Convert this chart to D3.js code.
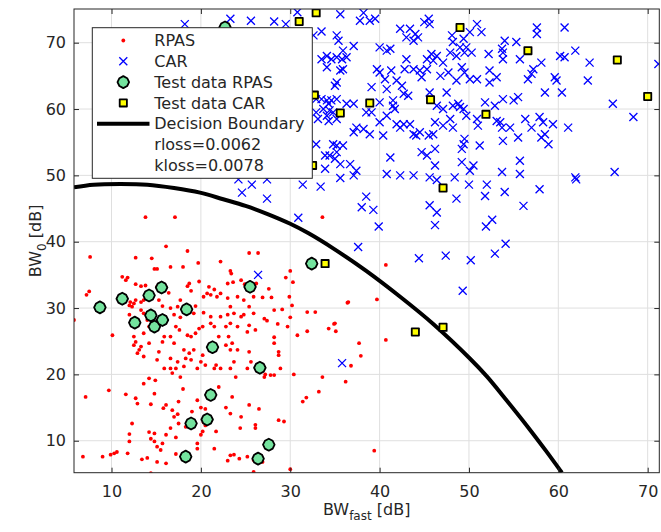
<!DOCTYPE html>
<html><head><meta charset="utf-8">
<script src="https://cdn.jsdelivr.net/npm/d3@7/dist/d3.min.js"></script>
<style>
body{margin:0;background:#fff}
text{font-family:"DejaVu Sans",sans-serif;fill:#262626}
</style>
</head><body>
<svg id="chart" width="661" height="532"></svg>
<script>
// ---------- data ----------
const xTicks = [10,20,30,40,50,60,70];
const yTicks = [10,20,30,40,50,60,70];
const xDomain = [5.8, 71.3];
const yDomain = [5.18, 75.08];

const legendLabels = ["RPAS","CAR","Test data RPAS","Test data CAR","Decision Boundary","rloss=0.0062","kloss=0.0078"];

const rpasPoints = [
[13.8,43.7],[17.1,43.7],[16.1,39.3],[18.5,38.6],[7.6,37.7],[12.7,37.6],[14.5,37.5],[19.7,36.8],[14.8,35.9],[15.1,35.9],
[16.6,36.2],[18.0,36.2],[22.2,37.0],[23.3,35.6],[23.4,35.2],[25.4,38.3],[26.4,38.3],[11.2,34.7],[11.8,34.6],[11.6,34.2],
[19.8,34.0],[18.7,33.7],[18.5,33.3],[12.7,33.6],[13.3,33.3],[13.8,33.4],[15.1,33.2],[16.4,32.3],[18.9,32.6],[20.9,33.2],
[21.5,32.8],[23.0,33.7],[23.6,33.9],[24.5,34.2],[24.9,33.6],[26.2,33.7],[27.6,32.9],[29.5,34.6],[30.0,35.6],[30.3,33.9],
[7.5,32.5],[7.2,32.0],[5.8,28.2],[12.1,30.9],[12.0,30.4],[12.3,30.2],[12.5,30.7],[13.3,30.9],[12.7,31.2],[13.6,31.2],
[15.3,31.2],[15.7,30.3],[16.6,30.0],[17.4,30.2],[17.7,31.2],[19.4,30.3],[20.3,31.7],[20.7,32.2],[21.1,32.0],[21.8,31.7],
[22.2,32.2],[23.0,31.5],[23.3,30.2],[24.1,31.7],[24.8,31.2],[25.4,30.2],[25.9,31.7],[26.9,31.6],[27.9,31.6],[29.9,31.7],
[30.2,30.4],[36.4,30.8],[33.6,43.7],[13.3,29.7],[13.6,29.2],[12.0,29.0],[14.0,28.2],[14.8,29.0],[15.9,28.4],[17.0,29.0],
[17.7,28.6],[19.2,29.2],[20.3,29.3],[21.1,28.7],[22.2,28.7],[23.0,29.0],[23.7,29.2],[24.5,28.7],[24.8,29.0],[25.9,29.2],
[27.1,28.4],[28.2,29.7],[29.1,29.8],[30.0,28.6],[31.9,29.4],[32.8,29.4],[34.9,27.6],[34.3,26.9],[35.1,26.5],[28.6,27.6],
[27.4,28.1],[25.2,26.4],[26.1,26.7],[25.4,27.4],[24.1,27.2],[23.3,27.7],[22.8,27.2],[21.5,27.2],[21.1,27.7],[20.2,27.2],
[19.8,26.9],[19.4,26.2],[18.9,25.7],[18.5,25.9],[17.2,27.2],[17.6,26.7],[16.6,25.7],[15.9,25.7],[15.1,26.9],[13.6,26.2],
[12.5,25.7],[10.1,25.9],[14.2,27.2],[22.0,25.7],[23.1,25.7],[29.7,27.2],[30.8,25.9],[28.2,25.6],
[12.7,24.9],[12.5,24.4],[13.3,24.2],[13.1,23.7],[12.9,23.2],[13.6,22.7],[14.2,24.7],[15.7,24.9],[17.0,24.7],[18.1,23.7],
[18.7,23.2],[19.2,23.7],[22.8,24.4],[23.3,23.7],[23.5,24.7],[24.1,23.7],[25.4,23.4],[28.2,24.7],[28.7,23.4],[28.7,22.9],
[37.7,24.7],[37.9,22.8],[36.8,21.3],[36.2,18.9],[33.6,19.6],[33.2,17.4],[31.8,16.5],[31.4,15.9],[30.4,20.0],[28.9,20.9],
[28.2,19.9],[27.8,19.9],[27.1,19.6],[27.2,20.0],[25.6,21.9],[25.2,20.9],[23.7,21.9],[23.9,19.6],[23.3,20.9],[22.2,20.9],
[21.7,21.4],[21.5,20.9],[20.5,21.4],[20.0,21.9],[20.2,22.9],[19.6,20.9],[18.9,22.2],[18.3,22.4],[18.1,21.2],[17.4,21.9],
[16.6,22.4],[17.2,20.9],[16.6,20.9],[15.9,20.9],[16.8,20.2],[17.7,19.6],[15.1,22.2],[15.3,23.4],[14.2,19.4],[13.6,18.6],
[14.9,19.1],[9.7,17.6],[7.1,16.6],[11.6,17.0],[12.7,16.4],[12.9,15.6],[14.4,15.5],[14.8,17.1],[16.1,15.4],[15.8,14.9],
[16.8,14.6],[17.5,15.9],[18.0,17.8],[19.0,14.4],[19.6,16.1],[20.0,15.0],[20.5,14.8],[22.0,18.1],[23.5,16.6],[22.8,15.0],
[23.3,14.1],[24.5,13.6],[25.4,15.4],[26.5,14.8],[26.1,12.4],[26.1,11.9],[24.4,11.9],[21.7,11.4],[20.2,11.4],[20.0,10.9],
[20.3,12.8],[20.5,12.3],[17.0,13.6],[17.4,14.0],[17.5,12.6],[16.6,11.9],[16.1,10.9],[14.8,11.1],[14.2,11.3],[14.4,10.3],
[14.8,9.9],[15.1,9.1],[15.7,9.6],[15.5,8.6],[17.2,10.5],[18.3,12.1],[19.6,9.6],[19.6,8.8],[12.0,11.0],[12.0,9.9],
[12.3,12.6],[11.8,8.1],[10.6,8.3],[10.3,8.1],[9.9,7.9],[9.0,7.6],[6.8,7.6],[13.4,7.2],[14.0,7.4],[15.1,6.8],
[16.1,6.6],[17.2,8.0],[21.5,8.8],[23.3,7.8],[23.7,7.9],[23.0,7.0],[24.3,7.3],[25.2,7.6],[25.9,7.1],[26.9,6.8],
[25.9,5.3],[30.0,5.7],[14.4,5.1],[28.7,13.1],[29.3,12.9],[39.4,8.5],[40.7,36.5],[39.7,31.3],[36.5,30.9],[40.7,25.2],
[35.0,27.7],[31.9,26.5]
];

const carPoints = [
[23.3,73.6],[25.6,73.3],[28.2,73.2],[29.5,72.8],[30.8,74.6],[35.6,74.3],[38.2,74.5],[37.8,73.3],[38.9,73.3],[39.5,73.6],
[42.3,72.1],[43.4,72.1],[44.0,71.3],[44.3,70.8],[43.8,70.3],[43.0,70.8],[45.0,73.1],[45.5,73.6],[33.5,71.7],[32.6,71.1],
[35.2,71.1],[35.4,70.3],[37.1,69.5],[35.9,68.8],[34.1,68.0],[33.5,67.5],[34.6,67.5],[35.2,67.8],[35.8,67.5],[35.9,66.0],
[35.6,65.8],[34.1,66.3],[36.3,67.8],[40.0,69.3],[40.8,68.8],[41.2,69.1],[43.0,67.5],[39.7,66.0],[40.0,65.5],[41.3,65.8],
[42.8,66.0],[43.8,66.0],[44.5,65.8],[44.7,64.8],[45.3,66.0],[45.3,67.5],[35.2,64.0],[35.0,63.5],[39.1,63.3],[40.6,64.5],
[40.8,63.0],[41.9,64.3],[42.5,63.5],[43.2,62.0],[42.7,62.3],[41.5,61.3],[32.9,61.5],[33.5,61.5],[34.1,61.3],[34.6,61.3],
[35.2,61.5],[36.3,60.8],[37.1,60.8],[34.3,60.8],[33.7,60.0],[34.4,59.8],[34.8,59.5],[34.1,59.0],[35.2,58.5],[34.3,58.2],
[32.9,59.5],[33.1,58.5],[38.5,59.5],[39.1,59.5],[40.0,61.0],[41.5,60.5],[41.7,60.0],[40.0,58.0],[40.8,59.0],[41.9,57.7],
[42.7,57.7],[43.4,57.7],[42.3,57.2],[43.8,56.2],[44.1,56.0],[44.5,56.5],[45.5,56.0],[37.4,57.2],[38.2,57.0],[37.1,56.5],
[38.9,56.2],[40.4,56.0],[32.9,54.7],[34.8,54.7],[35.2,54.5],[35.9,54.5],[33.9,53.0],[34.4,53.0],[35.2,53.5],[35.0,52.5],
[35.6,51.7],[33.9,51.0],[36.7,51.7],[37.4,50.7],[41.2,52.7],[44.7,53.5],[45.3,53.0],[40.8,50.2],[42.3,50.0],[43.8,50.0],
[37.1,50.0],
[45.6,72.8],[50.9,72.8],[51.4,71.6],[50.1,71.6],[49.4,70.6],[48.1,71.1],[48.2,70.1],[49.0,69.3],[49.7,69.3],[50.3,68.5],
[49.5,68.5],[48.6,68.0],[47.9,68.5],[47.1,67.0],[46.4,68.0],[45.8,68.3],[46.0,67.3],[46.8,65.0],[47.7,65.5],[48.6,64.3],
[49.2,66.3],[49.5,65.5],[50.1,64.5],[50.9,64.5],[52.3,65.8],[52.2,68.3],[53.1,64.8],[52.3,64.0],[53.7,69.1],[54.0,70.3],
[53.8,68.5],[53.8,67.5],[55.3,70.1],[55.7,67.5],[57.2,66.0],[56.6,64.5],[57.0,65.3],[57.6,72.3],[57.6,71.3],[58.1,67.0],
[60.2,68.0],[60.7,67.8],[60.7,72.3],[61.9,68.8],[63.5,67.0],[63.3,64.3],[59.6,64.8],[59.8,64.3],[58.5,62.5],[60.4,62.5],
[66.1,60.8],[68.4,58.8],[71.2,66.8],[45.6,62.5],[47.5,62.5],[46.4,60.5],[47.1,60.0],[48.2,60.5],[48.8,60.8],[49.0,60.3],
[49.4,60.0],[49.7,59.0],[47.9,58.5],[47.1,57.5],[48.2,57.2],[46.2,58.0],[46.0,56.2],[50.9,58.5],[51.0,57.5],[51.8,61.0],
[52.9,60.5],[53.8,61.5],[55.0,61.3],[55.5,61.8],[53.1,58.2],[53.5,58.0],[53.7,57.2],[54.6,57.2],[55.5,55.7],[53.8,55.2],
[56.3,58.5],[57.0,57.2],[57.9,58.8],[58.3,58.0],[59.4,57.7],[58.5,56.2],[58.1,55.7],[58.9,54.7],[61.1,57.2],[51.2,54.5],
[49.5,55.5],[49.2,54.0],[49.4,54.7],[46.2,54.0],[46.2,51.5],[49.2,52.0],[50.5,51.5],[50.1,50.7],[53.7,50.5],[55.7,52.2],
[55.7,50.2],[61.9,49.7],[66.3,50.5],[45.6,49.7],[48.4,49.7],
[24.6,47.4],[25.7,48.6],[27.4,46.5],[31.4,48.6],[33.4,48.3],[38.5,46.8],[38.0,45.2],[39.3,44.8],[39.9,42.3],[30.9,43.6],
[37.6,39.2],[26.4,35.0],[45.6,45.5],[46.4,44.4],[46.2,42.5],[48.6,46.5],[50.0,48.6],[51.8,46.9],[52.0,48.6],[54.0,47.5],
[56.1,45.4],[57.9,47.9],[62.0,49.4],[51.9,42.3],[52.6,43.3],[54.1,39.7],[52.9,38.2],[50.2,37.2],[47.4,37.9],[44.4,37.5],
[49.3,32.6],[24.2,49.4],[27.4,49.4],[35.6,49.6],[46.4,49.3],[18.2,72.8],[35.8,21.7]
];

const testRpasPoints = [
[8.7,30.1],[11.2,31.4],[12.6,27.8],[14.2,31.9],[15.6,33.1],[14.4,28.9],[14.8,27.2],[15.7,28.2],[18.4,29.8],[25.5,33.2],
[32.4,36.7],[21.3,24.1],[26.6,21.0],[21.1,16.9],[20.7,13.2],[18.9,12.6],[27.6,9.4],[18.3,7.6],[26.4,7.3],[22.7,72.3]
];

const testCarPoints = [
[32.9,74.5],[31.0,73.2],[32.7,62.1],[38.9,60.9],[35.6,59.4],[45.7,61.4],[32.5,51.5],[49.0,72.3],[56.6,68.8],[66.6,67.4],
[70.0,61.9],[51.9,59.2],[47.1,48.1],[33.9,36.7],[44.0,26.4],[47.1,27.1]
];

const boundaryPoints = [
[5.8,48.2],[8,48.6],[11,48.7],[14,48.6],[17,48.1],[19.9,47.4],[22.5,46.4],[25,45.4],[27.4,44.2],[30,42.7],
[32,41.3],[34.8,39.0],[38.5,35.6],[42.3,31.7],[46,27.6],[50.1,22.4],[52,19.7],[54.2,16.1],[56.8,11.7],[58.6,8.5],[60.4,5.18]
];

// ---------- drawing ----------
const svg = d3.select("#chart");
const L = 74, R = 659.3, T = 9, B = 472.7;
const x = d3.scaleLinear().domain(xDomain).range([L, R]);
const y = d3.scaleLinear().domain(yDomain).range([B, T]);
const axisColor = "#262626";

svg.append("defs").append("clipPath").attr("id","clip")
  .append("rect").attr("x",L).attr("y",T).attr("width",R-L).attr("height",B-T);

// grid
const grid = svg.append("g").attr("stroke","#dfdfdf").attr("stroke-width",1);
grid.selectAll(".gx").data(xTicks).join("line")
  .attr("x1",d=>x(d)).attr("x2",d=>x(d)).attr("y1",T).attr("y2",B);
grid.selectAll(".gy").data(yTicks).join("line")
  .attr("y1",d=>y(d)).attr("y2",d=>y(d)).attr("x1",L).attr("x2",R);

const plot = svg.append("g").attr("clip-path","url(#clip)");

// RPAS dots
plot.append("g").selectAll("circle").data(rpasPoints).join("circle")
  .attr("cx",d=>x(d[0])).attr("cy",d=>y(d[1])).attr("r",1.9).attr("fill","#ff0000");

// CAR crosses
const xs = 4;
plot.append("g").attr("stroke","#0000ff").attr("stroke-width",1.3).attr("fill","none")
  .selectAll("path").data(carPoints).join("path")
  .attr("d",d=>{const cx=x(d[0]),cy=y(d[1]);return `M${cx-xs},${cy-xs}L${cx+xs},${cy+xs}M${cx-xs},${cy+xs}L${cx+xs},${cy-xs}`;});

// marker shapes
const gem = "M0,-6L3.9,-3.9L5.8,0L3.9,3.9L0,6L-3.9,3.9L-5.8,0L-3.9,-3.9Z";
function drawGem(g, px, py){
  g.append("path").attr("d",gem).attr("transform",`translate(${px},${py})`)
   .attr("fill","#74e39e").attr("stroke","#000").attr("stroke-width",1.8).attr("stroke-linejoin","round");
}
function drawSquare(g, px, py){
  g.append("rect").attr("x",px-3.6).attr("y",py-3.6).attr("width",7.2).attr("height",7.2)
   .attr("fill","#ffff00").attr("stroke","#000").attr("stroke-width",1.8).attr("stroke-linejoin","round");
}

// boundary line
plot.append("path").datum(boundaryPoints)
  .attr("d", d3.line().x(d=>x(d[0])).y(d=>y(d[1])).curve(d3.curveCatmullRom))
  .attr("fill","none").attr("stroke","#000").attr("stroke-width",4);

const tg = plot.append("g");
testRpasPoints.forEach(d=>drawGem(tg, x(d[0]), y(d[1])));
testCarPoints.forEach(d=>drawSquare(tg, x(d[0]), y(d[1])));

// axes (ticks inward on all sides)
const ax = d3.axisBottom(x).tickValues(xTicks).tickSizeInner(-5).tickSizeOuter(0).tickPadding(12.5);
const gxA = svg.append("g").attr("transform",`translate(0,${B})`).call(ax);
const ay = d3.axisLeft(y).tickValues(yTicks).tickSizeInner(-5).tickSizeOuter(0).tickPadding(8);
const gyA = svg.append("g").attr("transform",`translate(${L},0)`).call(ay);
const axT = d3.axisTop(x).tickValues(xTicks).tickSizeInner(-5).tickSizeOuter(0).tickFormat("");
const gtA = svg.append("g").attr("transform",`translate(0,${T})`).call(axT);
const ayR = d3.axisRight(y).tickValues(yTicks).tickSizeInner(-5).tickSizeOuter(0).tickFormat("");
const grA = svg.append("g").attr("transform",`translate(${R},0)`).call(ayR);
[gxA,gyA,gtA,grA].forEach(g=>{
  g.select(".domain").remove();
  g.selectAll(".tick line").attr("stroke",axisColor);
  g.selectAll(".tick text").attr("font-size",16).attr("font-family","DejaVu Sans").attr("fill","#262626");
});
svg.append("rect").attr("x",L).attr("y",T).attr("width",R-L).attr("height",B-T)
  .attr("fill","none").attr("stroke",axisColor).attr("stroke-width",1);

// axis labels
const xl = svg.append("text").attr("x",(L+R)/2).attr("y",515).attr("text-anchor","middle").attr("font-size",16);
xl.append("tspan").text("BW");
xl.append("tspan").attr("font-size",12).attr("dy",5).text("fast");
xl.append("tspan").attr("dy",-5).text(" [dB]");

const yl = svg.append("text").attr("transform",`translate(41,${(T+B)/2}) rotate(-90)`)
  .attr("text-anchor","middle").attr("font-size",16);
yl.append("tspan").text("BW");
yl.append("tspan").attr("font-size",12).attr("dy",5).text("0");
yl.append("tspan").attr("dy",-5).text(" [dB]");

// legend
const lg = svg.append("g");
lg.append("rect").attr("x",92.3).attr("y",27.7).attr("width",220).attr("height",150.6)
  .attr("fill","#fff").attr("stroke",axisColor).attr("stroke-width",1);
const rowY = i => 40.5 + i*20.8;
const mx = 123.3;
lg.append("circle").attr("cx",mx).attr("cy",rowY(0)).attr("r",1.9).attr("fill","#ff0000");
lg.append("path").attr("d",`M${mx-xs},${rowY(1)-xs}L${mx+xs},${rowY(1)+xs}M${mx-xs},${rowY(1)+xs}L${mx+xs},${rowY(1)-xs}`)
  .attr("stroke","#0000ff").attr("stroke-width",1.3);
drawGem(lg, mx, rowY(2));
drawSquare(lg, mx, rowY(3));
lg.append("line").attr("x1",97).attr("x2",149.5).attr("y1",rowY(4)).attr("y2",rowY(4))
  .attr("stroke","#000").attr("stroke-width",4);
lg.selectAll("text.leg").data(legendLabels).join("text").attr("class","leg")
  .attr("x",154.3).attr("y",(d,i)=>rowY(i)).attr("dy","0.36em").attr("font-size",16).text(d=>d);
</script>
</body></html>
